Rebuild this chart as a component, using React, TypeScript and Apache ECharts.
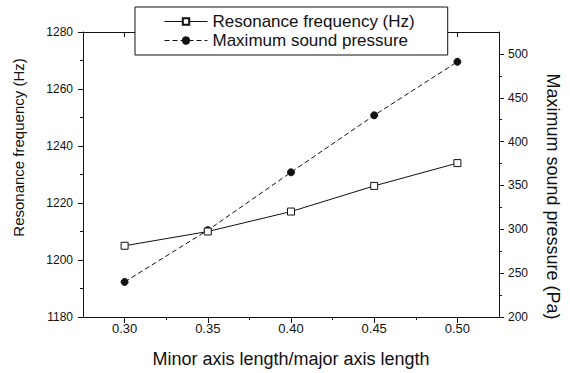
import React, { useEffect, useRef } from "react";
import * as echarts from "echarts";

const ratios = [0.3, 0.35, 0.4, 0.45, 0.5];
const resonanceHz = [1205, 1210, 1217, 1226, 1234];
const pressurePa = [240, 299, 365, 430, 491];
const xMajorTicks = [0.3, 0.35, 0.4, 0.45, 0.5];
const xMinorTicks = [0.325, 0.375, 0.425, 0.475];
const rightMajorTicks = [200, 250, 300, 350, 400, 450, 500];
const rightMinorTicks = [225, 275, 325, 375, 425, 475];

const FONT = "'Liberation Sans', Arial, sans-serif";
const BLACK = "#111";
const W = 570;
const H = 373;

export default function App() {
  const ref = useRef<HTMLDivElement>(null);
  useEffect(() => {
    document.body.style.margin = "0";
    if (!ref.current) return;
    const chart = echarts.init(ref.current, null, { renderer: "svg", width: W, height: H });
    const lineStyle = { color: BLACK, width: 1 };
    chart.setOption({
      animation: false,
      backgroundColor: "#fff",
      textStyle: { fontFamily: FONT, color: BLACK },
      grid: { left: 83, right: 68, top: 32, bottom: 55, containLabel: false },
      legend: {
        orient: "vertical",
        left: 135,
        top: 7,
        padding: [6, 33, 6, 29],
        itemGap: 2,
        itemWidth: 43,
        itemHeight: 8,
        backgroundColor: "#fff",
        borderColor: BLACK,
        borderWidth: 1,
        z: 10,
        lineStyle: { width: 1 },
        textStyle: { fontSize: 17, color: BLACK, fontFamily: FONT },
        data: ["Resonance frequency (Hz)", "Maximum sound pressure"],
      },
      xAxis: [
        {
          type: "value",
          position: "bottom",
          min: 0.275,
          max: 0.525,
          axisLine: { show: true, onZero: false, lineStyle },
          axisTick: { show: true, customValues: xMajorTicks, length: 6, lineStyle },
          axisLabel: {
            customValues: xMajorTicks,
            formatter: (v: number) => v.toFixed(2),
            fontSize: 13,
            margin: 5,
            color: BLACK,
            fontFamily: FONT,
          },
          splitLine: { show: false },
          name: "Minor axis length/major axis length",
          nameLocation: "middle",
          nameGap: 33,
          nameTextStyle: { fontSize: 18, color: BLACK, fontFamily: FONT },
        },
        {
          type: "value",
          position: "bottom",
          min: 0.275,
          max: 0.525,
          axisLine: { show: false, onZero: false },
          axisTick: { show: true, customValues: xMinorTicks, length: 3, lineStyle },
          axisLabel: { show: false },
          splitLine: { show: false },
        },
        {
          type: "value",
          position: "top",
          min: 0.275,
          max: 0.525,
          axisLine: { show: true, onZero: false, lineStyle },
          axisTick: { show: true, inside: true, customValues: xMajorTicks, length: 5, lineStyle },
          axisLabel: { show: false },
          splitLine: { show: false },
        },
      ],
      yAxis: [
        {
          type: "value",
          position: "left",
          min: 1180,
          max: 1280,
          interval: 20,
          axisLine: { show: true, onZero: false, lineStyle },
          axisTick: { show: true, length: 5, lineStyle },
          minorTick: { show: true, splitNumber: 2, length: 3, lineStyle },
          axisLabel: {
            fontSize: 12,
            margin: 10,
            color: BLACK,
            fontFamily: FONT,
            formatter: (v: number) => String(v),
          },
          splitLine: { show: false },
          name: "Resonance frequency (Hz)",
          nameLocation: "middle",
          nameGap: 57,
          nameRotate: 90,
          nameTextStyle: { fontSize: 15, color: BLACK, fontFamily: FONT, padding: [0, 0, 0, 54] },
        },
        {
          type: "value",
          position: "right",
          min: 200,
          max: 525,
          axisLine: { show: true, onZero: false, lineStyle },
          axisTick: { show: true, customValues: rightMajorTicks, length: 5, lineStyle },
          axisLabel: {
            customValues: rightMajorTicks,
            fontSize: 12,
            margin: 9,
            color: BLACK,
            fontFamily: FONT,
          },
          splitLine: { show: false },
          name: "Maximum sound pressure (Pa)",
          nameLocation: "middle",
          nameGap: 45,
          nameRotate: -90,
          nameTextStyle: { fontSize: 18, color: BLACK, fontFamily: FONT, padding: [0, 0, 0, 44] },
        },
        {
          type: "value",
          position: "right",
          min: 200,
          max: 525,
          axisLine: { show: false, onZero: false },
          axisTick: { show: true, customValues: rightMinorTicks, length: 3, lineStyle },
          axisLabel: { show: false },
          splitLine: { show: false },
        },
      ],
      series: [
        {
          name: "Resonance frequency (Hz)",
          type: "line",
          yAxisIndex: 0,
          data: ratios.map((x, i) => [x, resonanceHz[i]]),
          symbol: "rect",
          symbolSize: 7,
          itemStyle: { color: "#fff", borderColor: BLACK, borderWidth: 1 },
          lineStyle: { color: BLACK, width: 1, type: "solid" },
          z: 3,
        },
        {
          name: "Maximum sound pressure",
          type: "line",
          yAxisIndex: 1,
          data: ratios.map((x, i) => [x, pressurePa[i]]),
          symbol: "circle",
          symbolSize: 7,
          itemStyle: { color: BLACK, borderColor: BLACK, borderWidth: 1 },
          lineStyle: { color: BLACK, width: 1, type: [5, 3] },
          z: 2,
        },
      ],
    });
    return () => chart.dispose();
  }, []);
  return (
    <div
      ref={ref}
      style={{ position: "fixed", left: 0, top: 0, width: W, height: H, background: "#fff" }}
    />
  );
}
